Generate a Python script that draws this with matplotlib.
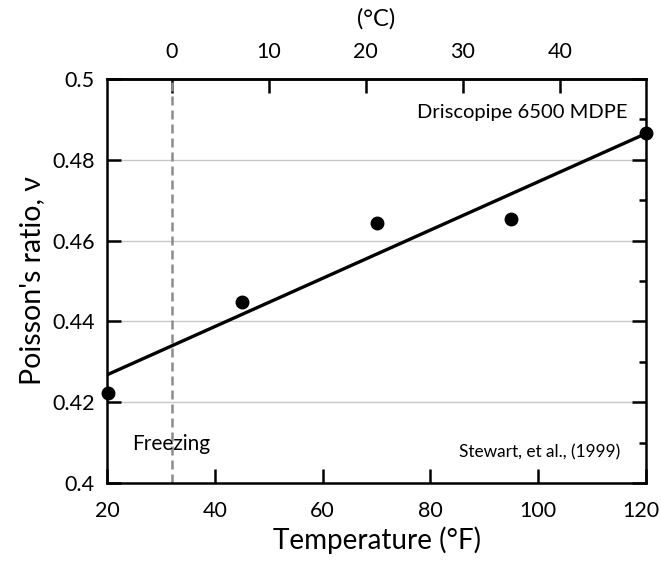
import numpy as np
import matplotlib
matplotlib.use("Agg")
import matplotlib.pyplot as plt
import matplotlib.transforms as mtransforms
from matplotlib.ticker import MultipleLocator

plt.rcParams['font.family'] = ['Lato', 'DejaVu Sans']

# measured points (temperature in F, poisson's ratio)
temp_f = [20.2, 45.0, 70.1, 95.0, 120.0]
nu = [0.4223, 0.4448, 0.4644, 0.4653, 0.4866]

f_ticks = [20, 40, 60, 80, 100, 120]
c_ticks = [0, 10, 20, 30, 40]
y_ticks = [0.4, 0.42, 0.44, 0.46, 0.48, 0.5]
y_labels = ['0.4', '0.42', '0.44', '0.46', '0.48', '0.5']
freezing_f = 32

fig = plt.figure(figsize=(6.61, 5.64), dpi=100)
ax = fig.add_axes([0.1619, 0.1436, 0.8154, 0.7163])

ax.set_xlim(20, 120)
ax.set_ylim(0.4, 0.5)

# grid lines at major y ticks
for g in y_ticks[1:-1]:
    ax.axhline(g, color='#c8c8c8', lw=1.0, zorder=0)

ax.axvline(freezing_f, color='#8c8c8c', lw=1.8, ls=(0, (3.6, 2.0)), zorder=1)

# linear trend
k, b = np.polyfit(temp_f, nu, 1)
xx = np.array([20, 120])
ax.plot(xx, k * xx + b, color='black', lw=2.4, zorder=2)

ax.plot(temp_f, nu, 'o', color='black', ms=9, clip_on=False, zorder=3)

ax.set_xticks(f_ticks)
ax.yaxis.set_minor_locator(MultipleLocator(0.01))
ax.set_yticks(y_ticks)
ax.set_yticklabels(y_labels)

ax.tick_params(which='major', direction='in', length=10, width=1.8,
               labelsize=15.5, left=True, right=True, top=False, pad=9)
ax.tick_params(which='minor', direction='in', length=5, width=1.8,
               left=False, right=True)
ax.tick_params(axis='x', which='minor', bottom=False, top=False)
ax.tick_params(axis='x', pad=13)

for s in ax.spines.values():
    s.set_linewidth(1.8)

# celsius on top
sec = ax.secondary_xaxis('top', functions=(lambda f: (f - 32) * 5 / 9,
                                           lambda c: c * 9 / 5 + 32))
sec.set_xticks(c_ticks)
sec.tick_params(direction='in', length=10, width=1.8, labelsize=15.5, pad=12)
sec.spines['top'].set_linewidth(1.8)
sec.set_xlabel('(°C)', fontsize=17, labelpad=12)

ax.set_xlabel('Temperature (°F)', fontsize=20, labelpad=4)
ax.set_ylabel("Poisson's ratio, ν", fontsize=20.5, labelpad=5)

ax.text(116.5, 0.4916, 'Driscopipe 6500 MDPE', ha='right', va='center', fontsize=14.5)
ax.text(115.2, 0.4077, 'Stewart, et al., (1999)', ha='right', va='center', fontsize=12.4)
ax.text(24.6, 0.4097, 'Freezing', ha='left', va='center', fontsize=15)

# keep the last bottom label inside the canvas
fig.canvas.draw()
last = ax.xaxis.get_major_ticks()[len(f_ticks) - 1].label1
last.set_transform(last.get_transform() +
                   mtransforms.ScaledTranslation(-5 / 100, 0, fig.dpi_scale_trans))

fig.savefig('out.png', dpi=100)
